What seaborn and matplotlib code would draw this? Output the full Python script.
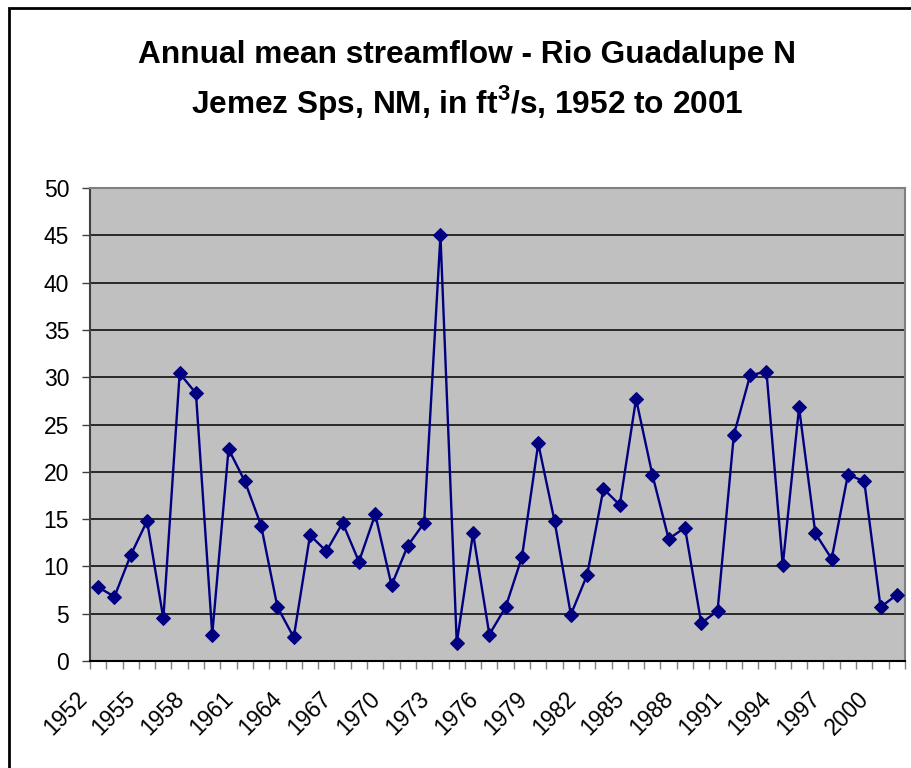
import matplotlib
matplotlib.use("Agg")
import matplotlib.pyplot as plt
import matplotlib.transforms as mtransforms
from matplotlib.patches import Rectangle
import seaborn as sns
import numpy as np

# annual mean streamflow, ft3/s
years = list(range(1952, 2002))
flow = [7.8, 6.8, 11.2, 14.8, 4.5, 30.4, 28.3, 2.8, 22.4, 19.0,
        14.3, 5.7, 2.5, 13.3, 11.6, 14.6, 10.5, 15.5, 8.0, 12.2,
        14.6, 45.0, 1.9, 13.5, 2.8, 5.7, 11.0, 23.0, 14.8, 4.9,
        9.1, 18.2, 16.5, 27.7, 19.7, 12.9, 14.1, 4.0, 5.3, 23.9,
        30.2, 30.6, 10.1, 26.8, 13.5, 10.8, 19.7, 19.0, 5.7, 7.0]
label_years = list(range(1952, 2001, 3))
yticks = list(range(0, 51, 5))

sns.set_style("white")
plt.rcParams['font.family'] = ['Liberation Sans', 'DejaVu Sans']
plt.rcParams['text.color'] = 'black'
plt.rcParams['xtick.labelcolor'] = 'black'
plt.rcParams['ytick.labelcolor'] = 'black'
plt.rcParams['mathtext.fontset'] = 'custom'
plt.rcParams['mathtext.bf'] = 'Liberation Sans:bold'
plt.rcParams['mathtext.rm'] = 'Liberation Sans:bold'

fig = plt.figure(figsize=(9.12, 7.68), dpi=100)
ax = fig.add_axes([90/912, 1-661/768, 815/912, 473/768])
ax.set_facecolor('#C0C0C0')

sns.lineplot(x=years, y=flow, ax=ax, color='#000080', linewidth=1.7,
             marker='D', markersize=7.5, markeredgecolor='#000080', zorder=3)

ax.set_xlim(1951.5, 2001.5)
ax.set_ylim(0, 50)
ax.set_yticks(yticks)
ax.yaxis.grid(True, color='black', linewidth=1.1)
ax.set_axisbelow(True)
ax.tick_params(axis='y', length=6, width=1, color='#404040', pad=9,
               labelsize=16.5, labelcolor='black', direction='out', left=True)

ax.set_xticks(label_years)
ax.set_xticklabels([str(y) for y in label_years])
ax.set_xticks(np.arange(1951.5, 2002, 1), minor=True)
ax.tick_params(axis='x', which='major', length=0, pad=25, labelsize=16.5,
               labelcolor='black')
ax.tick_params(axis='x', which='minor', length=6, width=1, color='#808080',
               direction='out', bottom=True)
offset = mtransforms.ScaledTranslation(-0.15, 0, fig.dpi_scale_trans)
for lab in ax.get_xticklabels():
    lab.set_rotation(45)
    lab.set_ha('right')
    lab.set_va('center')
    lab.set_rotation_mode('anchor')
    lab.set_transform(lab.get_transform() + offset)

for side in ['top', 'right']:
    ax.spines[side].set_color('#808080')
    ax.spines[side].set_linewidth(1.5)
ax.spines['left'].set_color('#404040')
ax.spines['bottom'].set_color('black')
for side in ['left', 'bottom']:
    ax.spines[side].set_linewidth(1.5)
ax.set_xlabel('')
ax.set_ylabel('')

# chart area frame
fig.patches.append(Rectangle((9/912, -0.05), 1.1, 1-8/768+0.05,
                             transform=fig.transFigure, fill=False,
                             edgecolor='black', linewidth=2))

fig.text(467/912, 1-55/768, 'Annual mean streamflow - Rio Guadalupe N',
         ha='center', va='center', fontsize=22.8, fontweight='bold')
fig.text(467/912, 1-103/768, r'Jemez Sps, NM, in ft$^\mathbf{3}$/s, 1952 to 2001',
         ha='center', va='center', fontsize=22.8, fontweight='bold')

fig.savefig('out.png', dpi=100)
